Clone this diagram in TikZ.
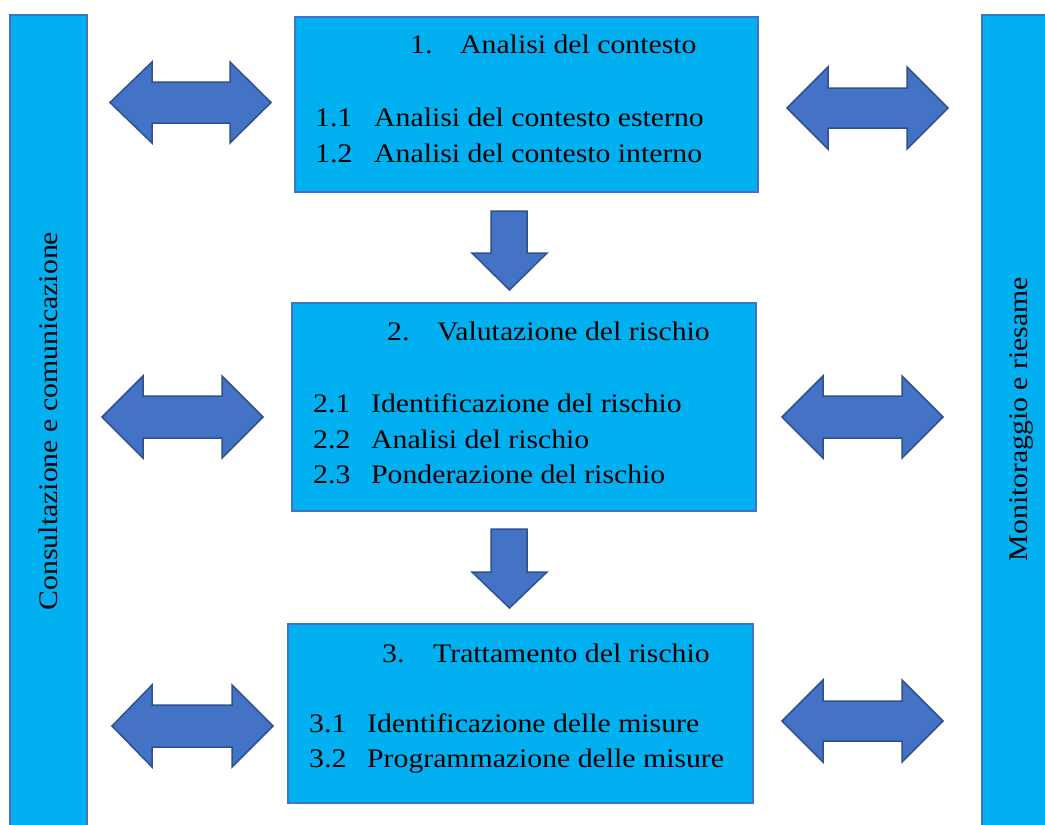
\documentclass[tikz,border=0pt]{standalone}
\usepackage{fontspec}
\setmainfont{Liberation Serif}[FakeStretch=1.11]
\definecolor{boxfill}{HTML}{00B0F0}
\definecolor{boxline}{HTML}{4472C4}
\definecolor{arrfill}{HTML}{4472C4}
\definecolor{arrline}{HTML}{2F528F}
\tikzset{
  panel/.style={draw=boxline, line width=2pt, fill=boxfill, inner sep=0pt},
  txt/.style={inner sep=0pt, anchor=base west, font=\fontsize{26.8}{35}\selectfont},
  vtxt/.style={inner sep=0pt, rotate=90, font=\fontsize{26.8}{35}\selectfont},
  blockarrow/.style={draw=arrline, line width=1.5pt, fill=arrfill, line join=miter},
}
% double arrow: x1, x2, neckL, neckR, cy, headhalf, shafthalf
\newcommand\DArrow[7]{%
  \path[blockarrow] (#1,#5) -- (#3,#5-#6) -- (#3,#5-#7) -- (#4,#5-#7) -- (#4,#5-#6)
    -- (#2,#5) -- (#4,#5+#6) -- (#4,#5+#7) -- (#3,#5+#7) -- (#3,#5+#6) -- cycle;}
% down arrow: xL, xR, headL, headR, top, headstart, tip
\newcommand\DownArrow[7]{%
  \path[blockarrow] (#1,#5) -- (#2,#5) -- (#2,#6) -- (#4,#6) -- ({(#3+#4)/2},#7)
    -- (#3,#6) -- (#1,#6) -- cycle;}
\begin{document}
\begin{tikzpicture}[x=1pt,y=-1pt]
\clip (0,0) rectangle (1045,825);
\useasboundingbox (0,0) rectangle (1045,825);
\fill[white] (0,0) rectangle (1045,825);

% side bars
\node[panel, minimum width=77pt, minimum height=820pt] (lbar) at (48.5,425) {};
\node[panel, minimum width=70pt, minimum height=820pt] (rbar) at (1017,425) {};
\node[vtxt] (ltext) at (48,421) {Consultazione e comunicazione};
\node[vtxt] (rtext) at (1022,419) {Monitoraggio e riesame};

% main boxes
\node[panel, minimum width=463pt, minimum height=175pt] (b1) at (526.5,104.5) {};
\node[panel, minimum width=464pt, minimum height=208pt] (b2) at (524,407) {};
\node[panel, minimum width=465pt, minimum height=179pt] (b3) at (520.5,713.5) {};

% box 1 text
\node[txt] (t1) at (410,53) {\makebox[50pt][l]{1.}Analisi del contesto};
\node[txt] (t11) at (315,126) {\makebox[59pt][l]{1.1}Analisi del contesto esterno};
\node[txt] (t12) at (315,162) {\makebox[59pt][l]{1.2}Analisi del contesto interno};

% box 2 text
\node[txt] (t2) at (387,340) {\makebox[50pt][l]{2.}Valutazione del rischio};
\node[txt] (t21) at (313,412) {\makebox[58pt][l]{2.1}Identificazione del rischio};
\node[txt] (t22) at (313,448) {\makebox[58pt][l]{2.2}Analisi del rischio};
\node[txt] (t23) at (313,483) {\makebox[58pt][l]{2.3}Ponderazione del rischio};

% box 3 text
\node[txt] (t3) at (382,662) {\makebox[51pt][l]{3.}Trattamento del rischio};
\node[txt] (t31) at (309,732) {\makebox[58pt][l]{3.1}Identificazione delle misure};
\node[txt] (t32) at (309,767) {\makebox[58pt][l]{3.2}Programmazione delle misure};

% double arrows
\DArrow{110}{271}{152}{230}{102.5}{40.5}{20.5}
\DArrow{787}{948}{828}{907}{108}{41}{20}
\DArrow{102}{263}{143}{222}{417}{41}{21}
\DArrow{782}{943}{823}{902}{417}{41}{21}
\DArrow{112}{273}{152}{232}{726}{41}{21}
\DArrow{782}{943}{823}{902}{721}{41}{20}

% down arrows
\DownArrow{491}{527}{472}{547}{211}{253}{290}
\DownArrow{491}{527}{472}{547}{529}{572}{608}
\end{tikzpicture}
\end{document}
